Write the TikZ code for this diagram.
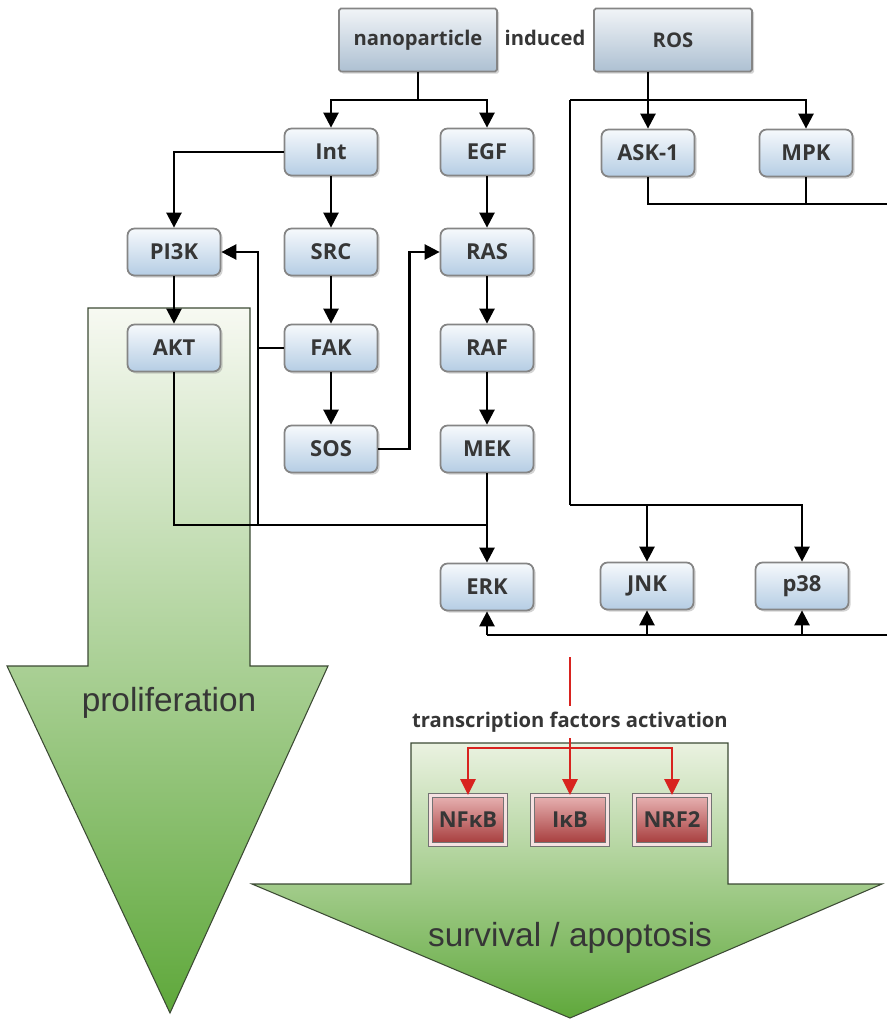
\documentclass[tikz,border=0pt]{standalone}
\usepackage{fontspec}
\setmainfont{Open Sans}
\newfontfamily\arialfont{Liberation Sans}
\usepackage{tikz}
\usetikzlibrary{arrows.meta, shadows}
\definecolor{boxtop}{HTML}{F6F9FC}
\definecolor{boxbot}{HTML}{B5CDE4}
\definecolor{boxline}{HTML}{858585}
\definecolor{headtop}{HTML}{F1F4F7}
\definecolor{headbot}{HTML}{ADC0D2}
\definecolor{labtext}{HTML}{363636}
\definecolor{redtop}{HTML}{E8B3B3}
\definecolor{redbot}{HTML}{A53A3A}
\definecolor{sigred}{HTML}{D8231F}
\definecolor{greentop}{HTML}{F7F9F2}
\definecolor{greenmid}{HTML}{B8D59B}
\definecolor{greenbot}{HTML}{5FA83B}
\definecolor{arrowline}{HTML}{3C4A34}

\begin{document}
\begin{tikzpicture}[x=0.02cm, y=-0.02cm,
  box/.style={draw=boxline, line width=1pt, rounded corners=4pt, top color=boxtop, bottom color=boxbot,
    minimum width=1.86cm, minimum height=0.94cm, text=labtext, font=\bfseries\fontsize{12.5}{14}\selectfont,
    drop shadow={shadow xshift=1.2pt, shadow yshift=-1.2pt, opacity=0.35}},
  headbox/.style={box, rounded corners=1pt, top color=headtop, bottom color=headbot,
    minimum width=3.16cm, minimum height=1.26cm, font=\bfseries\fontsize{11.5}{14}\selectfont},
  tfbox/.style={draw=black!55, double=redtop!40!white, double distance=1.4pt, line width=0.6pt,
    top color=redtop, bottom color=redbot, minimum width=1.5cm, minimum height=0.98cm,
    text=labtext, font=\bfseries\fontsize{12.5}{14}\selectfont,
    drop shadow={shadow xshift=1.2pt, shadow yshift=-1.2pt, opacity=0.35}},
  link/.style={line width=1.4pt, black},
  flow/.style={link, -{Triangle[width=8.5pt,length=8.5pt]}},
  redlink/.style={line width=1.5pt, sigred},
  redflow/.style={redlink, -{Triangle[width=8.5pt,length=9pt]}},
  bigarrow/.style={draw=arrowline, line width=0.6pt, top color=greentop, middle color=greenmid, bottom color=greenbot},
  bigtext/.style={font=\arialfont\fontsize{19}{22}\selectfont, text=labtext}]
  \useasboundingbox (0,0) rectangle (887,1020);

  \shadedraw[bigarrow] (88,308) -- (250,308) -- (250,666) -- (328,666) -- (170,1013) -- (7,666) -- (88,666) -- cycle;
  \shadedraw[bigarrow, top color=greentop!80!greenmid, middle color=greenmid, bottom color=greenbot]
    (411,743) -- (728,743) -- (728,884) -- (882,884) -- (570,1018) -- (252,884) -- (411,884) -- cycle;
  \node[bigtext] (prol) at (169,703) {proliferation};
  \node[bigtext] (surv) at (570,938) {survival / apoptosis};

  \node[headbox] (nano) at (418,40) {nanoparticle};
  \node[headbox] (ros) at (673,40) {ROS};
  \node[text=labtext, font=\bfseries\fontsize{11.5}{14}\selectfont] (ind) at (545,38) {induced};

  \node[box] (int) at (331,152) {Int};
  \node[box] (egf) at (487,152) {EGF};
  \node[box] (ask) at (648,153) {ASK-1};
  \node[box] (mpk) at (806,153) {MPK};
  \node[box] (pik) at (174,252) {PI3K};
  \node[box] (src) at (331,252) {SRC};
  \node[box] (ras) at (487,252) {RAS};
  \node[box] (akt) at (174,348) {AKT};
  \node[box] (fak) at (331,348) {FAK};
  \node[box] (raf) at (487,348) {RAF};
  \node[box] (sos) at (331,449) {SOS};
  \node[box] (mek) at (487,449) {MEK};
  \node[box] (erk) at (487,587) {ERK};
  \node[box] (jnk) at (647,586) {JNK};
  \node[box] (pp) at (802,586) {p38};

  \node[text=labtext, font=\bfseries\fontsize{11.5}{13}\selectfont] (tfa) at (570,722) {transcription factors activation};
  \node[tfbox] (nfkb) at (468,820) {NFκB};
  \node[tfbox] (ikb) at (570,820) {IκB};
  \node[tfbox] (nrf) at (672,820) {NRF2};

  \coordinate (nj) at (418,100);
  \coordinate (rj) at (648,100);
  \coordinate (rl) at (570,100);
  \coordinate (rb) at (570,505);
  \coordinate (eastA) at (887,204);
  \coordinate (eastB) at (887,635);
  \coordinate (fj) at (258,348);
  \coordinate (erkj) at (487,525);
  \coordinate (redstart) at (570,657);
  \coordinate (redsplit) at (570,748);

  \draw[link] (nano) -- (nj);
  \draw[flow] (nj) -| (int);
  \draw[flow] (nj) -| (egf);
  \draw[link] (ros.south -| rj) -- (rj);
  \draw[flow] (rj) -- (ask);
  \draw[flow] (rl) -| (mpk);
  \draw[link] (rl) -- (rb);
  \draw[flow] (rb) -| (pp);
  \draw[flow] (rb -| jnk) -- (jnk);
  \draw[link] (ask) |- (eastA);
  \draw[link] (mpk) -- (mpk |- eastA);

  \draw[flow] (int) -| (pik);
  \draw[flow] (int) -- (src);
  \draw[flow] (src) -- (fak);
  \draw[flow] (fak) -- (sos);
  \draw[flow] (egf) -- (ras);
  \draw[flow] (ras) -- (raf);
  \draw[flow] (raf) -- (mek);
  \draw[flow] (mek) -- (erk);
  \draw[flow] (pik) -- (akt);
  \draw[flow] (sos.east) -- ++(31,0) |- (ras);
  \draw[link] (fak) -- (fj);
  \draw[flow] (fj) |- (pik);
  \draw[link] (fj) -- (fj |- erkj);
  \draw[link] (akt) |- (erkj);

  \draw[link] (eastB) -- (erk.south |- eastB);
  \draw[flow] (erk.south |- eastB) -- (erk);
  \draw[flow] (jnk.south |- eastB) -- (jnk);
  \draw[flow] (pp.south |- eastB) -- (pp);

  \draw[redlink] (redstart) -- (tfa);
  \draw[redflow] (tfa) -- (ikb);
  \draw[redflow] (redsplit) -| (nfkb);
  \draw[redflow] (redsplit) -| (nrf);
\end{tikzpicture}
\end{document}
